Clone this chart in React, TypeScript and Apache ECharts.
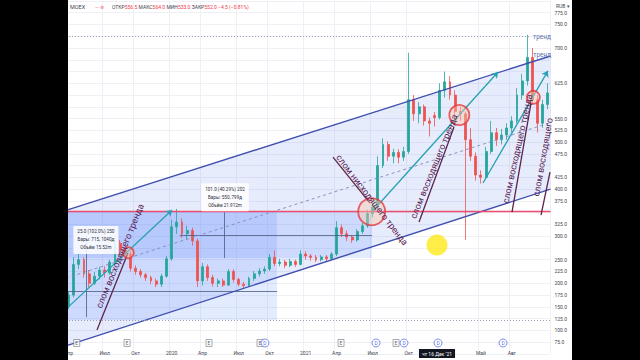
import React, { useEffect, useRef } from "react";
import * as echarts from "echarts";

// [open, close, low, high], roughly two-week candles, Apr 2019 .. Nov 2022
const candles: number[][] = [
  [150, 175, 145, 182], [175, 240, 170, 255], [240, 250, 230, 262], [250, 220, 212, 255],
  [220, 200, 192, 228], [200, 215, 196, 224], [215, 228, 208, 235], [228, 222, 212, 236],
  [222, 245, 218, 250], [245, 285, 240, 298], [285, 270, 258, 292], [270, 262, 252, 278],
  [262, 232, 225, 268], [232, 225, 218, 238], [225, 218, 212, 230], [218, 212, 205, 222],
  [212, 205, 198, 216], [205, 198, 192, 210], [198, 215, 192, 220], [215, 252, 212, 258],
  [252, 320, 248, 335], [320, 330, 305, 358], [330, 305, 296, 338], [305, 312, 292, 322],
  [312, 290, 280, 318], [290, 205, 192, 295], [205, 235, 195, 243], [235, 212, 205, 240],
  [212, 200, 193, 218], [200, 205, 192, 210], [205, 196, 192, 210], [196, 225, 194, 230],
  [225, 208, 202, 230], [208, 198, 193, 212], [198, 195, 190, 203], [195, 210, 193, 214],
  [210, 220, 205, 226], [220, 226, 214, 232], [226, 230, 220, 236], [230, 255, 226, 262],
  [255, 242, 236, 270], [242, 245, 236, 252], [245, 238, 232, 250], [238, 246, 234, 252],
  [246, 240, 235, 250], [240, 262, 238, 270], [262, 258, 250, 268], [258, 255, 248, 262],
  [255, 250, 245, 260], [250, 256, 246, 260], [256, 252, 247, 260], [252, 262, 248, 266],
  [262, 318, 258, 332], [318, 305, 298, 325], [305, 298, 290, 312], [298, 292, 286, 302],
  [292, 310, 288, 315], [310, 322, 305, 328], [322, 348, 318, 356], [348, 362, 340, 372],
  [362, 450, 358, 470], [450, 495, 445, 508], [495, 470, 460, 502], [470, 478, 455, 486],
  [478, 468, 455, 485], [468, 480, 460, 490], [480, 590, 475, 690], [590, 560, 545, 600],
  [560, 575, 540, 585], [575, 545, 535, 580], [545, 540, 512, 552], [556.5, 552, 533, 564],
  [552, 610, 548, 625], [610, 628, 595, 650], [628, 600, 590, 640], [600, 565, 555, 610],
  [565, 560, 545, 575], [560, 505, 292, 565], [505, 470, 460, 530], [470, 430, 418, 478],
  [430, 425, 412, 440], [425, 480, 420, 490], [480, 520, 475, 545], [520, 505, 492, 530],
  [505, 515, 495, 528], [515, 530, 505, 540], [530, 545, 520, 555], [545, 600, 540, 615],
  [600, 630, 590, 645], [630, 680, 620, 728], [680, 590, 580, 700], [590, 540, 520, 600],
  [540, 580, 530, 590], [580, 604.5, 570, 625],
];
const categories = candles.map((_, i) => `P${i + 1}`);

const tickIndex = [0, 7, 13, 20, 26, 33, 39, 46, 52, 59, 66, 80, 86];
const tickText = ["Апр", "Июл", "Окт", "2020", "Апр", "Июл", "Окт", "2021", "Апр", "Июл", "Окт", "Май", "Авг"];

const yMin = 50;
const yMax = 800;
const yStep = 25;
const hiddenTicks = [50, 800, 725, 675, 650, 600, 575, 450, 350, 275];

// drawings, in [period index, price]
const channelUpper = [[-0.5, 355], [93.5, 683]];
const channelLower = [[-0.5, 67], [93.5, 400]];
const channelMid = [[-0.5, 211], [93.5, 541.5]];
const supportLevel = [[-0.5, 352], [93.5, 352]];
const topLevel = [[-0.5, 724.3], [89.7, 724.3]];
const floorLevel = [[-0.5, 122], [93.5, 122]];
const arrows = [
  [[-0.5, 145], [20.07, 355.6]],
  [[58.87, 352], [83.32, 649]],
  [[80.41, 413], [93.0, 651.5]],
];
const breakLines = [
  [[5.51, 100.5], [11.53, 264.5]],
  [[51.3, 468], [58.48, 370.4]],
  [[67.99, 330], [74.78, 532]],
  [[86.03, 351], [89.72, 583]],
  [[91.66, 345], [93.4, 436]],
];
const breakTexts = ["слом восходящего тренда", "слом нисходящего тренда", "слом восходящего тренда", "слом восходящего тренда", "слом восходящего"];
const breakTextPos = [[9.98, 258], [58.87, 377], [70.9, 448], [87.1, 486], [92.05, 468]];
const breakTextAngle = [67.6, -52.5, 67.8, 77.5, 80];
const trendTexts = ["тренд", "тренд"];
const trendTextPos = [[91.85, 724.3], [91.9, 685]];
const circlePos = [[11.59, 264.8], [75.81, 557.5], [90.17, 595.2], [58.81, 352]];
const circleSize = [11, 20, 13, 27];
const measureRects = [
  [[-0.5, 352], [40.44, 121.7]],
  [[-0.5, 352], [58.87, 253.5]],
];
const measureLines = [
  [[3.38, 128], [3.38, 300]],
  [[30.15, 351], [30.15, 253.5]],
  [[-0.5, 184], [40.44, 184]],
  [[21.6, 301], [58.87, 301]],
];
const measureTexts = [
  "25.0 (102.0%) 250\nБары: 715, 1040д\nОбъём 15.52m",
  "101.0 (40.29%) 202\nБары: 550, 799д\nОбъём 21.912m",
];
const measureTextPos = [[5.3, 292], [30.35, 383]];
const cursorPos = [[71.48, 281]];
const earnX = [1.58, 11.34, 27.25, 37.14, 52.86, 63.53];
const divX = [38.11, 59.65, 65.08, 71.68, 84.29];
const markerPrice = 73;
const tagPrices = [724.3, 683.0, 649.0, 617.0, 604.5, 595.1, 580.0, 489.5, 454.5, 352.0, 282.0];
const tagKinds = ["teal", "teal", "teal", "black", "red", "light", "blue", "blue", "blue", "red", "black"];
const headerValues = [["ОТКР", "556.5"], ["МАКС", "564.0"], ["МИН", "533.0"], ["ЗАКР", "552.0"]];
const headerChange = "−4.5 (−0.81%)";
const crossDate = "чт 16 Дек '21";

const tagStyle: Record<string, [string, string]> = {
  teal: ["#1fadc2", "#ffffff"],
  black: ["#131722", "#ffffff"],
  red: ["#f23645", "#ffffff"],
  light: ["#e6ebfa", "#2f4fc0"],
  blue: ["#2f5cf6", "#ffffff"],
};

const FONT = "Roboto";

const seg = (pairs: number[][][]) => pairs.map((p) => [{ coord: p[0] }, { coord: p[1] }]);

export default function App() {
  const ref = useRef<HTMLDivElement>(null);

  useEffect(() => {
    document.body.style.margin = "0";
    document.body.style.background = "#000";
    const chart = echarts.init(ref.current!, undefined, { renderer: "svg" });
    const N = candles.length;
    const showTick = (i: number) => tickIndex.indexOf(i) >= 0;

    const lineSeries = (name: string, data: any[], lineStyle: any, symbol: string[] = ["none", "none"], z = 4) => ({
      name,
      type: "line",
      xAxisIndex: 1,
      data: [],
      z,
      markLine: {
        silent: true,
        symbol,
        symbolSize: 6,
        label: { show: false },
        lineStyle,
        data,
        animation: false,
      },
    });

    const option: any = {
      animation: false,
      backgroundColor: "#ffffff",
      grid: { left: 66, right: 89.5, top: 0.94, bottom: 6.2, outerBoundsMode: "none", containLabel: false },
      xAxis: [
        {
          type: "category",
          data: categories,
          boundaryGap: true,
          position: "bottom",
          offset: -5,
          axisLine: { show: false },
          axisTick: { show: false },
          axisLabel: {
            interval: (i: number) => showTick(i),
            formatter: (_v: string, i: number) => tickText[tickIndex.indexOf(i)] ?? "",
            fontSize: 5,
            color: "#434651",
            margin: 2,
            fontFamily: FONT,
          },
          splitLine: { show: true, interval: (i: number) => showTick(i), lineStyle: { color: "#eef0f6", width: 1 } },
        },
        { type: "value", min: -0.5, max: N - 0.5, show: false },
      ],
      yAxis: {
        type: "value",
        position: "right",
        min: yMin,
        max: yMax,
        interval: yStep,
        axisLine: { show: false },
        axisTick: { show: false },
        axisLabel: {
          fontSize: 5,
          color: "#434651",
          margin: 4,
          fontFamily: FONT,
          formatter: (v: number) => (hiddenTicks.indexOf(v) >= 0 ? "" : v.toFixed(1)),
        },
        splitLine: { lineStyle: { color: "#eef0f6", width: 1 } },
      },
      series: [
        {
          type: "custom",
          xAxisIndex: 1,
          z: 1,
          silent: true,
          data: [[0, 300]],
          renderItem: (_p: any, api: any) => ({
            type: "polygon",
            shape: { points: [channelUpper[0], channelUpper[1], channelLower[1], channelLower[0]].map((p) => api.coord(p)) },
            style: { fill: "rgba(56,98,235,0.12)" },
          }),
        },
        {
          type: "line",
          xAxisIndex: 1,
          data: [],
          z: 1,
          markArea: {
            silent: true,
            itemStyle: { color: "rgba(41,98,255,0.13)" },
            data: seg(measureRects),
          },
        },
        {
          type: "candlestick",
          xAxisIndex: 0,
          data: candles,
          barWidth: 2.4,
          z: 3,
          itemStyle: { color: "#26a69a", color0: "#ef5350", borderColor: "#26a69a", borderColor0: "#ef5350", borderWidth: 0.8 },
        },
        lineSeries("measure", seg(measureLines), { color: "#4b5b80", width: 0.8, type: "solid" }),
        lineSeries("channel", seg([channelUpper, channelLower]), { color: "#3f4fae", width: 1.4, type: "solid" }),
        lineSeries("mid", seg([channelMid]), { color: "#7d8ab5", width: 0.9, type: [3, 3] }),
        lineSeries("support", seg([supportLevel]), { color: "#ee4e6e", width: 1.4, type: "solid" }),
        lineSeries("levels", seg([topLevel, floorLevel]), { color: "#8f97ad", width: 0.9, type: [1, 2] }),
        lineSeries("arrows", seg(arrows), { color: "#27a2b2", width: 1.3, type: "solid" }, ["none", "arrow"]),
        lineSeries("breaks", seg(breakLines), { color: "#5d2447", width: 1.3, type: "solid" }),
        {
          type: "scatter",
          xAxisIndex: 1,
          z: 5,
          silent: true,
          data: circlePos.map((p, i) => ({ value: p, symbolSize: circleSize[i] })),
          itemStyle: { color: "rgba(250,200,170,0.55)", borderColor: "#e53940", borderWidth: 1.8 },
        },
        {
          type: "scatter",
          xAxisIndex: 1,
          z: 6,
          silent: true,
          data: cursorPos,
          symbolSize: 21,
          itemStyle: { color: "rgba(255,232,0,0.9)" },
        },
        {
          type: "scatter",
          xAxisIndex: 1,
          z: 5,
          silent: true,
          data: earnX.map((x) => [x, markerPrice]),
          symbol: "rect",
          symbolSize: [6, 7],
          itemStyle: { color: "#ffffff", borderColor: "#787b86", borderWidth: 0.8 },
          label: { show: true, position: "inside", formatter: "E", fontSize: 5, color: "#333", fontFamily: FONT },
        },
        {
          type: "scatter",
          xAxisIndex: 1,
          z: 5,
          silent: true,
          data: divX.map((x) => [x, markerPrice]),
          symbol: "circle",
          symbolSize: 8,
          itemStyle: { color: "#ffffff", borderColor: "#4a66e8", borderWidth: 0.9 },
          label: { show: true, position: "inside", formatter: "D", fontSize: 5, color: "#2f4fd8", fontFamily: FONT },
        },
        {
          type: "custom",
          xAxisIndex: 1,
          z: 7,
          silent: true,
          clip: false,
          data: breakTextPos.map((p, i) => [p[0], p[1], breakTextAngle[i]]),
          renderItem: (params: any, api: any) => {
            const pt = api.coord([api.value(0), api.value(1)]);
            return {
              type: "text",
              x: pt[0],
              y: pt[1],
              rotation: (api.value(2) * Math.PI) / 180,
              style: {
                text: breakTexts[params.dataIndex],
                fontSize: 9,
                fontFamily: FONT,
                fill: "#5a2350",
                align: "center",
                verticalAlign: "middle",
              },
            };
          },
        },
        {
          type: "custom",
          xAxisIndex: 1,
          z: 7,
          silent: true,
          clip: false,
          data: trendTextPos,
          renderItem: (params: any, api: any) => {
            const pt = api.coord([api.value(0), api.value(1)]);
            return {
              type: "text",
              x: pt[0],
              y: pt[1],
              style: {
                text: trendTexts[params.dataIndex],
                fontSize: 6.5,
                fontFamily: FONT,
                fill: "#5b6fa8",
                align: "center",
                verticalAlign: "middle",
              },
            };
          },
        },
        {
          type: "custom",
          xAxisIndex: 1,
          z: 7,
          silent: true,
          clip: false,
          data: measureTextPos,
          renderItem: (params: any, api: any) => {
            const pt = api.coord([api.value(0), api.value(1)]);
            return {
              type: "text",
              x: pt[0],
              y: pt[1],
              style: {
                text: measureTexts[params.dataIndex],
                fontSize: 4.6,
                lineHeight: 8,
                fontFamily: FONT,
                fill: "#2a2e39",
                align: "center",
                verticalAlign: "middle",
                backgroundColor: "rgba(255,255,255,0.85)",
                padding: [2, 4],
                borderRadius: 1,
              },
            };
          },
        },
        {
          type: "line",
          xAxisIndex: 1,
          data: [],
          z: 8,
          markLine: {
            silent: true,
            symbol: ["none", "none"],
            lineStyle: { opacity: 0 },
            data: tagPrices.map((p, i) => ({
              yAxis: p,
              label: {
                show: true,
                position: "end",
                distance: 1,
                formatter: p.toFixed(1),
                fontSize: 4.8,
                lineHeight: 5.4,
                fontFamily: FONT,
                backgroundColor: tagStyle[tagKinds[i]][0],
                color: tagStyle[tagKinds[i]][1],
                padding: [0.3, 3, 0.3, 3],
                borderRadius: 1,
              },
            })),
          },
        },
      ],
      graphic: [
        { type: "rect", z: 100, silent: true, shape: { x: 0, y: 0, width: 68, height: 360 }, style: { fill: "#000" } },
        { type: "rect", z: 100, silent: true, shape: { x: 572, y: 0, width: 68, height: 360 }, style: { fill: "#000" } },
        {
          type: "text",
          z: 101,
          x: 70,
          y: 7,
          style: { text: "MOEX", fontSize: 5.5, fontFamily: FONT, fill: "#434651", verticalAlign: "middle" },
        },
        {
          type: "text",
          z: 101,
          x: 95,
          y: 7,
          style: { text: "— ⊗", fontSize: 5, fontFamily: FONT, fill: "#f06e80", verticalAlign: "middle" },
        },
        {
          type: "text",
          z: 101,
          x: 112,
          y: 7,
          style: {
            text:
              headerValues.map(([k, v]) => `{l|${k}}{v|${v}}`).join(" ") + ` {v|${headerChange}}`,
            fontSize: 5,
            fontFamily: FONT,
            verticalAlign: "middle",
            rich: {
              l: { fill: "#434651", fontSize: 5, fontFamily: FONT },
              v: { fill: "#f23645", fontSize: 5, fontFamily: FONT },
            },
          },
        },
        {
          type: "text",
          z: 101,
          x: 556,
          y: 6,
          style: { text: "RUB ▾", fontSize: 5, fontFamily: FONT, fill: "#434651", verticalAlign: "middle" },
        },
        {
          type: "text",
          z: 101,
          x: 437,
          y: 353.5,
          style: {
            text: crossDate,
            fontSize: 5,
            fontFamily: FONT,
            fill: "#ffffff",
            align: "center",
            verticalAlign: "middle",
            backgroundColor: "#131722",
            padding: [2, 3],
          },
        },
      ],
    };

    chart.setOption(option);
    return () => chart.dispose();
  }, []);

  return <div ref={ref} style={{ width: 640, height: 360 }} />;
}
